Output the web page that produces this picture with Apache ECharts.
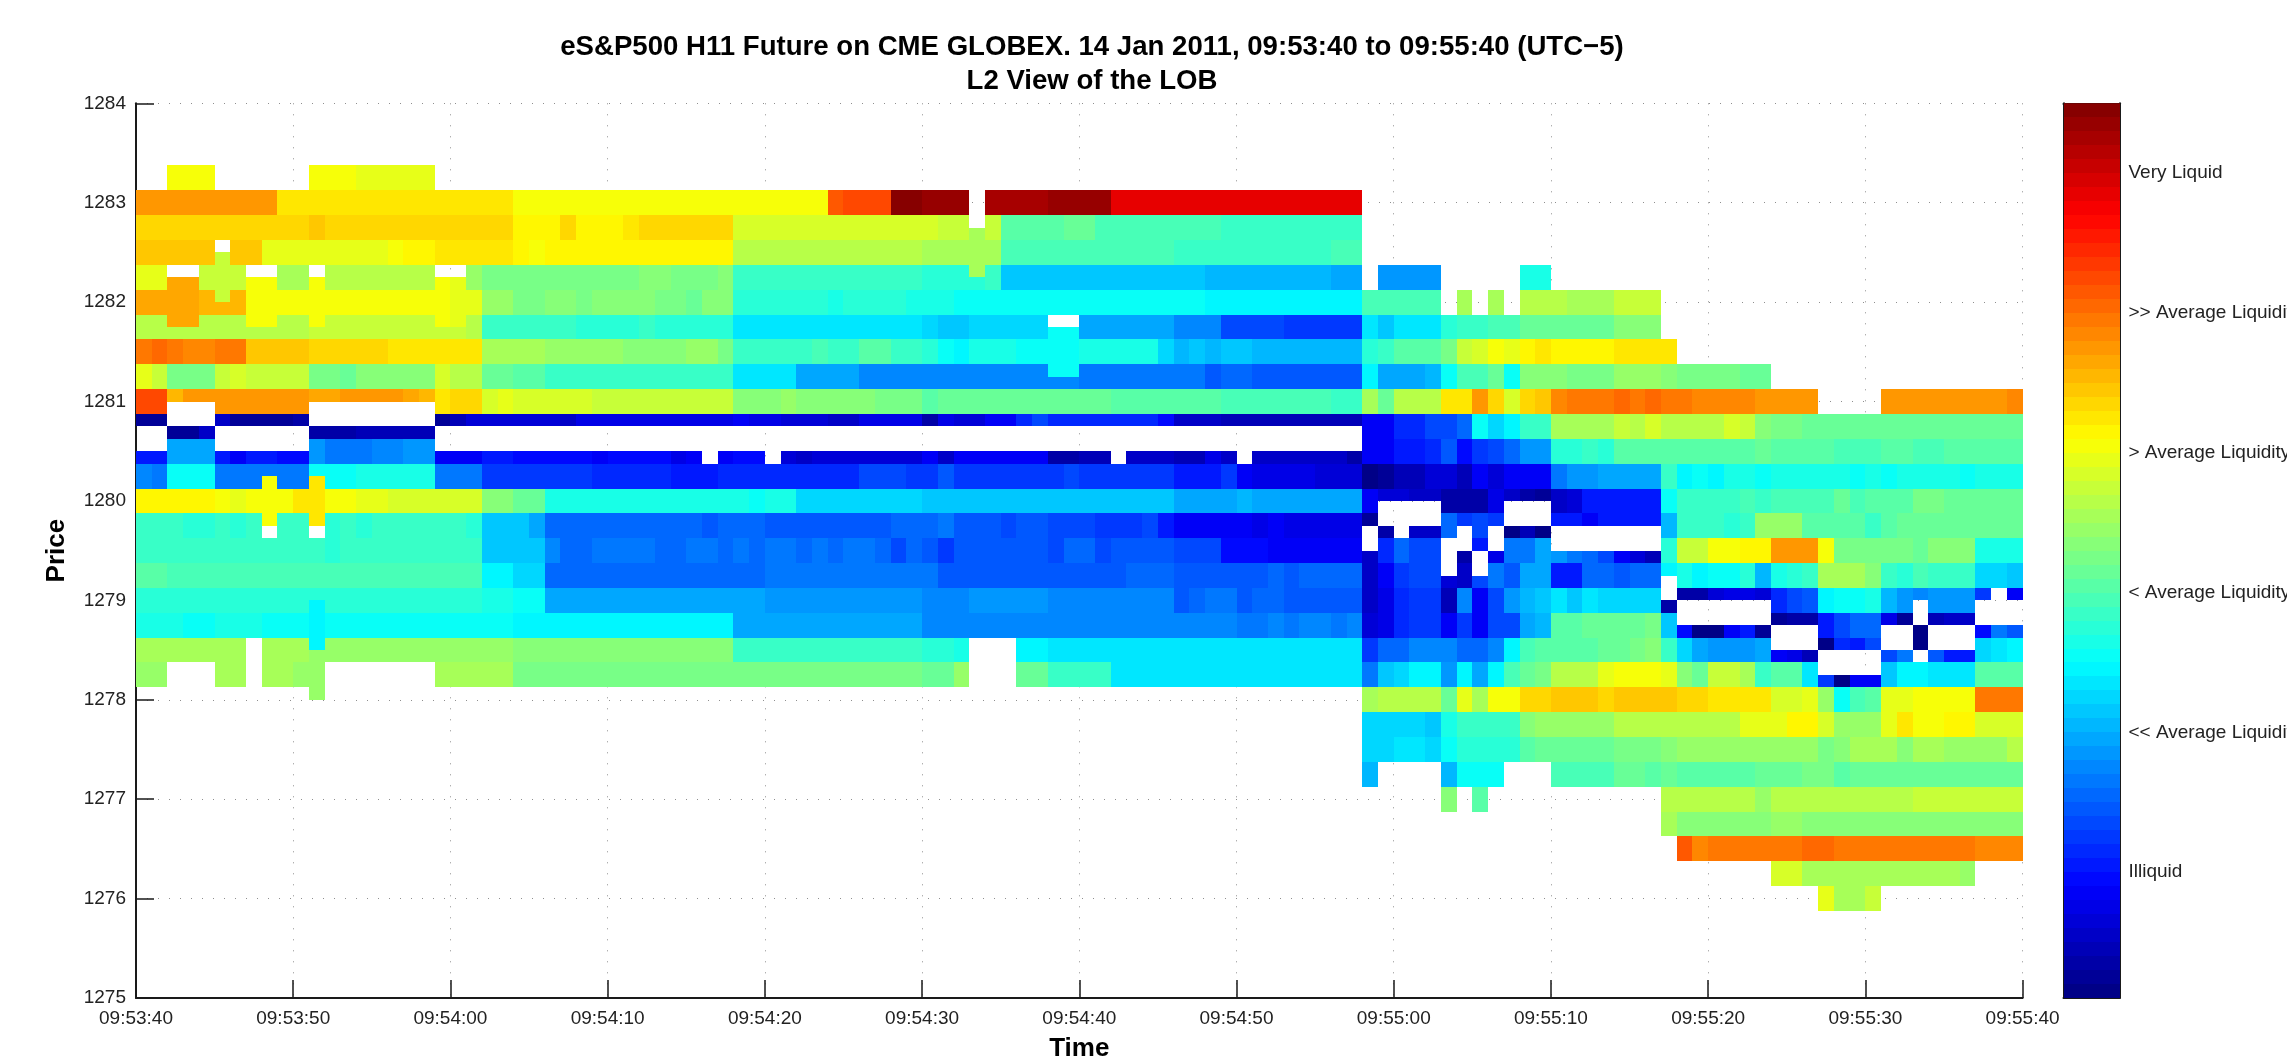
<!DOCTYPE html>
<html><head><meta charset="utf-8">
<style>html,body{margin:0;padding:0;background:#fff}#c{width:2287px;height:1058px}</style>
<script src="https://cdn.jsdelivr.net/npm/echarts@6/dist/echarts.min.js"></script>
</head><body><div id="c"></div>
<script>
// Every run is [firstSecond, endSecond, liquidityLevel]; levels are 1..64 of the colour bar.
const r1283_25=[[2,5,40],[11,14,40],[14,19,39]];
const r1283_00=[[0,9,47],[9,24,42],[24,44,40],[44,45,51],[45,48,52],[48,50,64],[50,53,63],[54,58,62],[58,62,63],[62,78,58]];
const r1282_75=[[0,11,43],[11,12,44],[12,24,43],[24,27,41],[27,28,43],[28,31,41],[31,32,42],[32,38,43],[38,51,38],[51,53,37],[54,55,37],[55,59,30],[59,61,31],[61,69,29],[69,78,28]];
const r1282_50=[[0,5,44],[6,8,44],[8,16,39],[16,17,40],[17,19,41],[19,24,42],[24,25,41],[25,26,40],[26,38,41],[38,50,36],[50,54,35],[54,55,35],[55,66,29],[66,76,28],[76,78,29]];
const r1282_25=[[0,2,39],[4,7,37],[9,11,35],[12,19,36],[21,22,34],[22,32,32],[32,34,33],[34,37,32],[37,38,33],[38,50,28],[50,54,27],[54,55,28],[55,68,21],[68,76,20],[76,78,19],[79,83,18],[88,90,26]];
const r1282_00=[[0,4,46],[4,7,45],[7,20,40],[20,22,39],[22,24,34],[24,26,32],[26,28,33],[28,29,32],[29,33,33],[33,35,32],[35,36,31],[36,38,33],[38,44,27],[44,45,26],[45,49,27],[49,52,26],[52,68,25],[68,78,24],[78,83,29],[84,85,35],[86,87,35],[88,91,36],[91,94,35],[94,97,37]];
const r1281_75=[[0,11,36],[11,21,37],[21,22,36],[22,28,28],[28,32,27],[32,33,28],[33,38,27],[38,50,23],[50,51,22],[51,53,21],[53,58,22],[60,66,19],[66,69,17],[69,73,13],[73,78,12],[78,79,23],[79,80,21],[80,83,23],[83,84,27],[84,86,28],[86,88,29],[88,94,31],[94,97,33]];
const r1281_50=[[0,1,49],[1,2,50],[2,3,49],[3,5,48],[5,7,49],[7,11,44],[11,16,43],[16,22,42],[22,26,35],[26,31,34],[31,35,33],[35,37,34],[37,38,32],[38,43,28],[43,44,29],[44,46,28],[46,48,30],[48,50,28],[50,51,27],[51,52,25],[52,53,24],[53,56,26],[56,60,25],[60,65,26],[65,66,22],[66,67,20],[67,68,21],[68,69,20],[69,71,21],[71,78,20],[78,79,27],[79,80,28],[80,83,30],[83,84,32],[84,85,37],[85,86,38],[86,87,40],[87,88,39],[88,89,41],[89,90,42],[90,94,41],[94,98,42]];
const r1281_25=[[0,1,39],[1,2,37],[2,5,32],[5,6,37],[6,7,38],[7,11,37],[11,13,32],[13,14,31],[14,19,33],[19,20,38],[20,22,36],[22,24,31],[24,26,30],[26,38,28],[38,42,23],[42,46,19],[46,60,17],[60,68,16],[68,69,14],[69,71,15],[71,78,14],[78,79,24],[79,82,19],[82,83,20],[83,84,25],[84,86,29],[86,87,31],[87,88,25],[88,91,33],[91,94,32],[94,97,34],[97,98,33],[98,102,32],[102,104,31]];
const r1281_00=[[0,2,52],[5,11,47],[19,20,42],[20,22,43],[22,23,38],[23,24,39],[24,29,38],[29,38,37],[38,41,33],[41,42,34],[42,47,33],[47,50,32],[50,51,30],[51,62,31],[62,69,30],[69,76,29],[76,78,28],[78,79,35],[79,80,31],[80,83,36],[83,85,42],[85,86,47],[86,87,43],[87,88,38],[88,89,43],[89,90,44],[90,91,48],[91,94,49],[94,95,50],[95,96,49],[96,97,50],[97,99,49],[99,103,48],[103,107,47],[111,119,47],[119,120,48]];
const r1280_75top=[[0,2,2],[5,6,5],[6,10,2],[10,11,3],[19,20,2],[20,21,4],[21,27,6],[27,28,5],[28,38,7],[38,39,8],[39,41,7],[41,44,6],[44,46,5],[46,50,7],[50,51,3],[51,52,7],[52,54,6],[54,56,8],[56,57,11],[57,58,13],[58,65,11],[65,66,9],[66,69,5],[69,78,4]];
const r1280_50low=[[0,2,10],[5,6,10],[6,7,8],[7,9,10],[9,11,9],[19,22,8],[22,24,10],[24,29,9],[29,30,8],[30,34,9],[34,35,7],[35,36,8],[37,38,8],[38,40,9],[41,42,6],[42,43,5],[43,50,6],[50,51,8],[51,52,5],[52,58,8],[58,60,3],[60,62,4],[63,66,5],[66,68,4],[68,69,7],[69,70,5],[71,77,5],[77,78,3]];
const r1280_75right=[[78,80,8],[80,82,11],[82,84,13],[84,85,15],[85,86,25],[86,87,22],[87,88,24],[88,90,28],[90,94,35],[94,95,37],[95,96,36],[96,97,38],[97,101,36],[101,102,38],[102,103,37],[103,104,33],[104,106,32],[106,120,31]];
const r1280_50right=[[78,80,8],[80,82,10],[82,83,11],[83,84,14],[84,85,9],[85,86,12],[86,87,13],[87,88,15],[88,90,18],[90,92,27],[92,93,28],[93,94,27],[94,103,30],[103,104,31],[104,108,30],[108,111,29],[111,113,30],[113,115,29],[115,120,30]];
const r1280_25=[[0,1,17],[1,2,16],[2,5,25],[5,11,16],[11,14,25],[14,19,26],[19,22,16],[22,29,12],[29,34,11],[34,37,10],[37,46,11],[46,49,13],[49,51,12],[51,52,14],[52,59,12],[59,60,13],[60,66,12],[66,69,10],[69,70,12],[70,71,8],[71,75,7],[75,78,6],[78,79,1],[79,80,2],[80,82,4],[82,84,6],[84,85,4],[85,86,8],[86,87,6],[87,90,8],[90,91,16],[91,93,18],[93,97,19],[97,98,28],[98,99,24],[99,100,25],[100,101,24],[101,103,26],[103,104,25],[104,109,26],[109,110,25],[110,111,26],[111,112,25],[112,116,26],[116,117,25],[117,120,26]];
const r1280_00=[[0,5,41],[5,6,40],[6,7,39],[7,10,40],[10,12,42],[12,14,40],[14,16,39],[16,22,38],[22,24,33],[24,26,31],[26,39,26],[39,40,25],[40,42,26],[42,50,22],[50,66,21],[66,70,19],[70,71,20],[71,78,19]];
const r1279_75=[[0,3,28],[3,5,27],[5,6,28],[6,7,27],[7,8,28],[9,11,28],[12,13,27],[13,14,28],[14,15,27],[15,21,28],[21,22,27],[22,25,21],[25,26,19],[26,36,15],[36,37,14],[37,40,15],[40,48,14],[48,51,15],[51,52,16],[52,55,14],[55,56,13],[56,58,14],[58,61,13],[61,64,12],[64,65,13],[65,66,10],[66,71,8],[71,72,7],[72,73,8],[73,78,7]];
const r1279_50=[[0,12,28],[12,13,27],[13,22,28],[22,26,21],[26,27,17],[27,29,15],[29,33,16],[33,35,15],[35,37,16],[37,38,15],[38,39,16],[39,40,15],[40,42,16],[42,43,15],[43,44,16],[44,45,15],[45,47,16],[47,48,15],[48,49,13],[49,50,15],[50,51,14],[51,52,12],[52,58,14],[58,59,13],[59,61,15],[61,62,13],[62,66,14],[66,69,13],[69,72,9],[72,78,8]];
const r1279_25=[[0,2,30],[2,22,29],[22,24,24],[24,26,22],[26,40,15],[40,51,16],[51,63,14],[63,66,15],[66,72,14],[72,73,15],[73,74,14],[74,78,15]];
const r1279_00=[[0,22,27],[22,24,26],[24,26,25],[26,40,19],[40,50,18],[50,53,17],[53,58,18],[58,66,17],[66,67,14],[67,68,15],[68,70,16],[70,71,14],[71,73,15],[73,78,14]];
const r1278_75=[[0,3,26],[3,5,25],[5,8,26],[8,24,25],[24,38,24],[38,50,19],[50,70,17],[70,72,16],[72,73,17],[73,74,16],[74,76,17],[76,77,16],[77,78,17]];
const r1278_50=[[0,7,35],[8,11,35],[11,12,24],[12,24,34],[24,38,33],[38,50,28],[50,52,27],[52,53,26],[56,58,24],[58,78,23]];
const r1278_25=[[0,2,34],[5,7,35],[8,10,35],[10,11,34],[19,24,35],[24,50,32],[50,52,31],[52,53,34],[56,58,31],[58,62,28],[62,78,23]];
const r1278_00=[[78,79,35],[79,83,36],[83,84,31],[84,85,39],[85,86,35],[86,88,40],[88,90,43],[90,93,44],[93,94,43],[94,98,44],[98,100,43],[100,104,42],[104,106,38],[106,107,39],[107,108,34],[108,109,25],[109,110,29],[110,111,30],[111,113,39],[113,117,40],[117,120,49]];
const r1277_75=[[78,82,22],[82,83,21],[83,84,26],[84,88,28],[88,89,33],[89,94,34],[94,102,36],[102,105,39],[105,107,41],[107,108,38],[108,111,34],[111,112,39],[112,113,42],[113,115,40],[115,117,41],[117,120,38]];
const r1277_50=[[78,80,22],[80,82,23],[82,83,22],[83,84,25],[84,88,27],[88,89,30],[89,94,31],[94,97,32],[97,98,33],[98,107,34],[107,108,32],[108,109,33],[109,112,35],[112,113,33],[113,115,35],[115,119,34],[119,120,36]];
const r1277_25=[[78,79,20],[83,84,20],[84,87,25],[90,94,29],[94,96,31],[96,97,30],[97,98,31],[98,103,30],[103,106,31],[106,108,32],[108,109,30],[109,120,31]];
const r1277_00=[[83,84,33],[85,86,30],[97,103,36],[103,104,34],[104,113,36],[113,120,37]];
const r1276_75=[[97,98,35],[98,104,33],[104,106,34],[106,120,33]];
const r1276_50=[[98,99,51],[99,100,48],[100,106,49],[106,108,50],[108,117,49],[117,120,48]];
const r1276_25=[[104,106,38],[106,116,35],[116,117,34]];
const r1276_00=[[107,108,39],[108,110,35],[110,111,37]];

// Price bands, edges counted in eighths of a point below 1284: [topEdge, bottomEdge, runs]
const bands=[[5,7,r1283_25],[7,9,r1283_00],[9,11,r1282_75],[11,13,r1282_50],[13,15,r1282_25],[15,17,r1282_00],[17,19,r1281_75],[19,21,r1281_50],[21,23,r1281_25],[23,25,r1281_00],[25,26,r1280_75top],[28,29,r1280_50low],[25,27,r1280_75right],[27,29,r1280_50right],[29,31,r1280_25],[31,33,r1280_00],[33,35,r1279_75],[35,37,r1279_50],[37,39,r1279_25],[39,41,r1279_00],[41,43,r1278_75],[43,45,r1278_50],[45,47,r1278_25],[47,49,r1278_00],[49,51,r1277_75],[51,53,r1277_50],[53,55,r1277_25],[55,57,r1277_00],[57,59,r1276_75],[59,61,r1276_50],[61,63,r1276_25],[63,65,r1276_00]];

// Cells sitting half a level off the regular rows: [firstSecond, endSecond, topEdge, bottomEdge, level]
const offsetCells=[[2,4,14,18,46],[7,9,14,18,40],[11,12,14,18,40],[19,20,14,18,40],[20,21,14,18,39],[5,6,12,16,37],[53,54,10,14,35],[58,60,18,22,25],
[2,3,23,24,45],[3,5,23,24,47],[11,13,23,24,46],[13,17,23,24,47],[17,18,23,24,46],[18,19,23,24,45],
[2,4,26,27,2],[4,5,26,27,5],[11,14,26,27,3],[14,19,26,27,4],
[2,5,27,29,19],[11,12,27,29,18],[12,15,27,29,16],[15,17,27,29,17],[17,19,27,29,18],
[8,9,30,34,40],[11,12,30,34,42],[11,12,40,44,24],[11,12,44,48,34]];

// Seconds 78..119 below edge 31, read down each column: [bottomEdge, level], level 0 = no quotes.
const columnsFrom78=[
[[33,8],[34,2],[36,0],[41,5],[43,6],[45,12],[47,16]],
[[32,6],[34,0],[35,3],[37,11],[39,8],[43,7],[45,15],[47,21]],
[[32,6],[35,0],[37,15],[39,12],[43,11],[45,15],[47,22]],
[[32,5],[34,0],[35,5],[39,13],[43,12],[45,17],[47,24]],
[[32,5],[34,0],[35,5],[39,13],[43,12],[45,17],[47,24]],
[[33,3],[35,15],[38,0],[39,6],[41,4],[43,8],[45,17],[47,18]],
[[33,3],[34,12],[36,0],[37,3],[39,5],[41,17],[43,12],[45,15],[47,24]],
[[33,3],[35,13],[36,10],[38,0],[39,13],[43,8],[45,15],[47,19]],
[[33,7],[34,12],[36,0],[37,7],[39,16],[43,13],[45,17],[47,24]],
[[32,5],[34,0],[35,1],[37,16],[39,14],[41,18],[43,13],[45,24],[47,29]],
[[32,3],[34,0],[35,4],[37,16],[39,19],[41,20],[43,19],[45,29],[47,31]],
[[32,2],[34,0],[35,1],[39,19],[41,21],[43,20],[45,30],[47,32]],
[[33,5],[34,10],[36,0],[37,18],[39,10],[41,23],[45,30],[47,36]],
[[33,6],[34,10],[36,0],[37,16],[39,10],[41,21],[45,30],[47,36]],
[[33,10],[34,8],[36,0],[39,15],[41,23],[43,31],[45,30],[47,36]],
[[34,10],[36,0],[37,13],[39,15],[41,22],[45,31],[47,39]],
[[34,10],[36,0],[37,8],[39,14],[41,22],[45,31],[47,40]],
[[34,10],[36,0],[37,6],[39,15],[41,22],[43,31],[45,32],[47,40]],
[[34,10],[36,0],[37,4],[39,15],[41,22],[43,32],[45,33],[47,40]],
[[33,25],[35,20],[37,27],[38,24],[40,0],[41,3],[43,21],[45,28],[47,39]],
[[35,28],[37,37],[39,26],[40,3],[42,0],[43,9],[45,22],[47,33]],
[[35,28],[37,37],[39,24],[40,3],[42,0],[43,1],[45,19],[47,31]],
[[35,28],[37,40],[39,25],[40,6],[42,0],[43,1],[45,18],[47,37]],
[[33,28],[35,27],[37,40],[39,25],[40,7],[42,0],[43,8],[45,18],[47,37]],
[[33,29],[35,28],[37,41],[39,27],[40,7],[42,0],[43,10],[45,18],[47,35]],
[[33,28],[35,34],[37,41],[39,20],[40,6],[42,0],[43,2],[45,19],[47,28]],
[[33,29],[35,34],[37,47],[39,26],[41,11],[42,2],[44,0],[45,8],[47,30]],
[[33,29],[35,34],[37,47],[39,27],[41,13],[42,3],[44,0],[45,7],[47,30]],
[[33,29],[35,30],[37,47],[39,28],[41,14],[42,3],[44,0],[45,4],[47,23]],
[[33,29],[35,30],[37,40],[39,35],[41,24],[43,10],[44,1],[46,0],[47,12]],
[[33,31],[35,30],[37,32],[39,35],[41,25],[43,13],[44,11],[46,0],[47,1]],
[[33,29],[35,30],[37,32],[39,35],[41,25],[43,15],[44,10],[46,0],[47,8]],
[[33,30],[35,28],[37,32],[39,33],[41,26],[43,15],[44,13],[46,0],[47,8]],
[[35,30],[37,32],[39,28],[41,20],[42,7],[44,0],[45,13],[47,21]],
[[33,30],[35,31],[37,32],[39,27],[41,18],[42,2],[44,0],[45,16],[47,24]],
[[33,32],[37,31],[39,29],[40,17],[42,0],[44,1],[45,0],[47,24]],
[[33,32],[35,31],[37,33],[39,28],[41,18],[42,4],[44,0],[45,14],[47,23]],
[[35,31],[37,33],[39,28],[41,18],[42,5],[44,0],[45,10],[47,23]],
[[35,31],[37,33],[39,28],[41,18],[42,5],[44,0],[45,10],[47,23]],
[[35,31],[37,26],[39,22],[40,12],[42,0],[43,9],[45,22],[47,30]],
[[35,31],[37,26],[39,22],[42,0],[43,16],[45,23],[47,30]],
[[35,31],[37,26],[39,21],[40,8],[42,0],[43,14],[45,24],[47,30]]];

const colorbarLevelTicks=[59.5,49.5,39.5,29.5,19.5,9.5];
const colorbarLabels=['Very Liquid','>> Average Liquidity','> Average Liquidity','< Average Liquidity','<< Average Liquidity','Illiquid'];
const titleLines=['eS&P500 H11 Future on CME GLOBEX. 14 Jan 2011, 09:53:40 to 09:55:40 (UTC\u22125)','L2 View of the LOB'];
const startSecondOfDay=9*3600+53*60+40;

const priceAt=e=>1284-e/8;
function jet(l){ // the 64-step colour table of the bar
  const f=(d)=>Math.max(0,Math.min(1,1.5-Math.abs(4*((l-0.5)/64)-d)));
  const c=[f(3),f(2),f(1)].map(v=>Math.round(v*255));
  return `rgb(${c[0]},${c[1]},${c[2]})`;
}
const cells=[];
bands.forEach(([t,b,runs])=>runs.forEach(([a,z,l])=>cells.push([a,z,priceAt(t),priceAt(b),l])));
offsetCells.forEach(([a,z,t,b,l])=>cells.push([a,z,priceAt(t),priceAt(b),l]));
columnsFrom78.forEach((stack,i)=>{let top=31;stack.forEach(([bot,l])=>{if(l)cells.push([78+i,79+i,priceAt(top),priceAt(bot),l]);top=bot;});});
const barCells=Array.from({length:64},(_,i)=>[0,1,i+1.5,i+0.5,i+1]);

function rect(params,api){
  const p=api.coord([api.value(0),api.value(2)]),q=api.coord([api.value(1),api.value(3)]);
  const x=Math.round(p[0]),y=Math.round(p[1]);
  return {type:'rect',shape:{x,y,width:Math.round(q[0])-x,height:Math.round(q[1])-y},
    style:{fill:jet(api.value(4))}};
}
const FONT='"Liberation Sans",Arial,sans-serif';
const dark='#1a1a1a';
const pad=n=>String(n).padStart(2,'0');
const clock=s=>{const t=startSecondOfDay+s;return pad(Math.floor(t/3600))+':'+pad(Math.floor(t/60)%60)+':'+pad(t%60);};
const dots={show:true,lineStyle:{color:'#8f8f8f',width:1,type:[1,10]}};

const chart=echarts.init(document.getElementById('c'),null,{renderer:'canvas'});
chart.setOption({
  animation:false,backgroundColor:'#fff',
  title:[
    {text:titleLines[0],left:1087,top:26,textAlign:'center',textStyle:{fontFamily:FONT,fontWeight:'bold',fontSize:27.6,color:'#000',lineHeight:32}},
    {text:titleLines[1],left:1087,top:60,textAlign:'center',textStyle:{fontFamily:FONT,fontWeight:'bold',fontSize:27.6,color:'#000',lineHeight:32}}
  ],
  grid:[
    {left:136,top:103.3,width:1886.6,height:894.7,outerBoundsMode:'none',containLabel:false},
    {left:2063.5,top:103.3,width:56,height:894.7,outerBoundsMode:'none',containLabel:false}
  ],
  xAxis:[
    {gridIndex:0,type:'value',min:0,max:120,interval:10,name:'Time',nameLocation:'middle',nameGap:38,
     nameTextStyle:{fontFamily:FONT,fontWeight:'bold',fontSize:26,color:'#000'},
     axisLine:{lineStyle:{color:dark,width:2}},axisTick:{inside:true,length:18,lineStyle:{color:dark,width:1.5}},
     axisLabel:{fontFamily:FONT,fontSize:19,color:'#222',margin:11,formatter:clock,showMinLabel:true,showMaxLabel:true},splitLine:dots},
    {gridIndex:1,type:'value',min:0,max:1,position:'bottom',axisLine:{onZero:false,lineStyle:{color:dark,width:2}},axisTick:{show:false},axisLabel:{show:false},splitLine:{show:false}},
    {gridIndex:1,type:'value',min:0,max:1,position:'top',axisLine:{onZero:false,lineStyle:{color:dark,width:2}},axisTick:{show:false},axisLabel:{show:false},splitLine:{show:false}}
  ],
  yAxis:[
    {gridIndex:0,type:'value',min:1275,max:1284,interval:1,name:'Price',nameLocation:'middle',nameGap:66,nameRotate:90,
     nameTextStyle:{fontFamily:FONT,fontWeight:'bold',fontSize:26,color:'#000'},
     axisLine:{show:true,onZero:false,lineStyle:{color:dark,width:2}},axisTick:{show:true,inside:true,length:18,lineStyle:{color:dark,width:1.5}},
     axisLabel:{fontFamily:FONT,fontSize:19,color:'#222',margin:10,formatter:v=>String(v)},splitLine:dots},
    {gridIndex:1,type:'value',min:0.5,max:64.5,position:'right',
     axisLine:{show:true,onZero:false,lineStyle:{color:dark,width:2}},
     axisTick:{show:true,inside:true,length:9,customValues:colorbarLevelTicks,lineStyle:{color:dark,width:1.5}},
     axisLabel:{fontFamily:FONT,fontSize:19,color:'#222',margin:9,customValues:colorbarLevelTicks,
       formatter:v=>colorbarLabels[colorbarLevelTicks.indexOf(v)]},splitLine:{show:false}},
    {gridIndex:1,type:'value',min:0.5,max:64.5,position:'left',
     axisLine:{show:true,onZero:false,lineStyle:{color:dark,width:2}},
     axisTick:{show:true,inside:true,length:9,customValues:colorbarLevelTicks,lineStyle:{color:dark,width:1.5}},
     axisLabel:{show:false},splitLine:{show:false}}
  ],
  series:[
    {type:'custom',xAxisIndex:0,yAxisIndex:0,clip:true,renderItem:rect,encode:{x:[0,1],y:[2,3]},data:cells},
    {type:'custom',xAxisIndex:1,yAxisIndex:1,clip:true,renderItem:rect,encode:{x:[0,1],y:[2,3]},data:barCells}
  ]
});
</script></body></html>
